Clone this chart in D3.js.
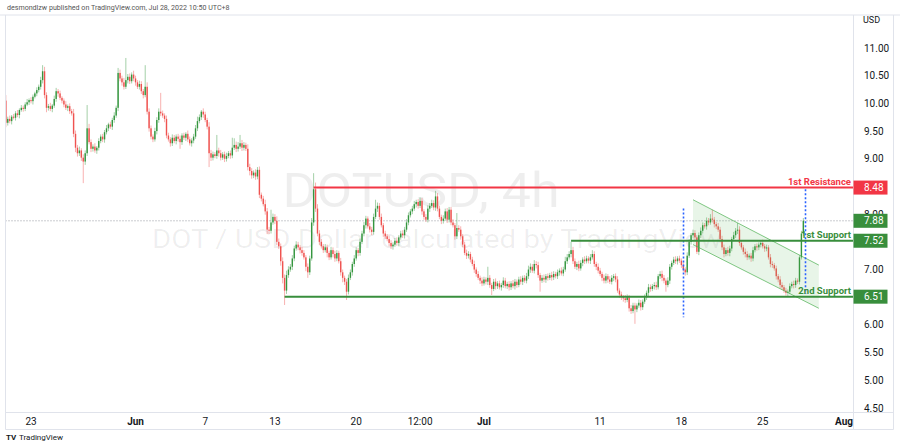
<!DOCTYPE html>
<html><head><meta charset="utf-8">
<script src="https://cdn.jsdelivr.net/npm/d3@7"></script>
<style>body{margin:0;background:#fff;overflow:hidden} svg{display:block} text{font-family:Roboto,"Noto Sans",sans-serif}</style>
</head><body><svg id="c" width="900" height="447"></svg>
<script>
// ---------- data ----------
const startTime = Date.UTC(2022, 4, 20, 20); // first 4h candle (chart time UTC+8)
const candleHours = 4;
const firstOpen = 10.05;
const closes = [
9.65,9.72,9.68,9.76,9.74,9.82,9.79,9.88,9.92,9.90,
9.98,10.02,10.06,10.04,10.12,10.18,10.24,10.30,10.42,10.58,
10.15,9.92,9.95,9.90,9.96,10.08,10.22,10.18,10.10,10.05,
9.98,9.92,9.95,9.86,9.82,9.45,9.20,9.10,9.15,9.02,
8.95,9.10,9.55,9.30,9.18,9.22,9.15,9.20,9.32,9.40,
9.35,9.48,9.55,9.62,9.58,9.70,9.78,9.92,10.55,10.45,
10.38,10.30,10.42,10.48,10.40,10.52,10.45,10.38,10.30,10.35,
10.22,10.15,10.30,9.85,9.55,9.40,9.35,9.50,9.70,9.85,
9.82,9.78,9.72,9.42,9.35,9.28,9.38,9.32,9.40,9.36,
9.30,9.42,9.38,9.45,9.35,9.28,9.33,9.40,9.55,9.68,
9.75,9.85,9.80,9.70,9.58,9.10,9.02,9.08,9.05,9.15,
9.10,9.02,9.08,9.00,9.05,9.10,9.06,9.20,9.25,9.18,
9.22,9.28,9.20,9.25,9.18,8.85,8.78,8.70,8.75,8.68,
8.80,8.35,8.28,8.18,8.05,7.72,7.70,7.85,7.95,7.88,
7.50,7.42,7.15,6.85,6.62,6.90,7.00,7.05,7.20,7.38,
7.45,7.40,7.35,7.30,7.22,7.05,6.95,7.20,7.85,8.45,
8.10,7.65,7.50,7.42,7.35,7.40,7.30,7.22,7.35,7.28,
7.20,7.30,7.15,6.95,6.85,6.78,6.60,6.85,6.95,7.10,
7.20,7.35,7.30,7.50,7.65,7.80,7.92,7.78,7.72,7.68,
7.95,8.10,8.15,7.95,7.80,7.65,7.60,7.55,7.48,7.42,
7.45,7.52,7.48,7.58,7.65,7.62,7.72,7.85,7.98,8.05,
8.10,8.18,8.22,8.15,8.24,8.05,7.95,7.90,8.10,8.15,
8.20,8.12,8.32,8.10,7.95,7.88,7.92,8.05,7.90,8.08,
7.85,7.80,7.60,7.75,7.72,7.60,7.45,7.30,7.25,7.28,
7.18,7.10,7.00,6.92,6.85,6.80,6.75,6.82,6.78,6.85,
6.72,6.65,6.78,6.70,6.75,6.68,6.72,6.80,6.70,6.74,
6.68,6.75,6.70,6.78,6.72,6.82,6.78,6.85,6.80,6.88,
7.00,7.05,6.98,7.10,7.08,6.90,6.80,6.85,6.82,6.88,
6.85,6.90,6.86,6.92,6.88,6.95,6.98,6.93,7.00,7.15,
7.22,7.28,7.35,7.15,7.05,7.10,7.02,7.12,7.18,7.15,
7.20,7.16,7.22,7.28,7.10,7.05,6.98,6.92,6.85,6.80,
6.88,6.82,6.78,6.85,6.88,6.82,6.62,6.55,6.50,6.48,
6.45,6.50,6.30,6.25,6.35,6.28,6.35,6.40,6.32,6.42,
6.50,6.58,6.68,6.65,6.70,6.72,6.68,6.88,6.92,6.85,
6.80,6.72,6.80,7.05,7.12,7.18,7.15,7.20,7.16,7.08,
7.00,6.95,7.25,7.50,7.62,7.66,7.58,7.32,7.62,7.70,
7.80,7.78,7.88,7.85,7.92,7.90,7.82,7.78,7.72,7.55,
7.40,7.28,7.35,7.30,7.38,7.55,7.62,7.70,7.72,7.48,
7.40,7.32,7.28,7.22,7.25,7.20,7.35,7.42,7.40,7.45,
7.48,7.42,7.38,7.40,7.22,7.10,7.08,7.02,6.88,6.82,
6.72,6.68,6.62,6.58,6.60,6.70,6.74,6.72,6.80,6.78,
7.22,7.65,7.88];
// wick lengths above / below the body, in cents
const wickUp = [
10,4,6,3,5,4,6,3,5,4, 4,6,3,5,4,3,5,4,6,11, 8,5,4,6,3,6,6,4,5,3, 4,6,3,5,4,8,6,5,7,4,
6,5,42,8,5,4,6,3,5,4, 5,4,6,3,5,4,6,4,9,6, 5,8,40,5,6,4,7,5,4,6, 5,4,39,8,6,5,4,6,5,6,
34,5,4,6,5,4,6,5,4,5, 6,4,5,3,6,5,4,5,6,8, 5,3,6,5,4,8,6,5,4,28, 5,6,4,5,6,4,5,18,12,6,
8,15,6,5,4,8,6,5,4,6, 5,6,4,5,8,6,5,23,6,5, 8,6,5,7,6,8,6,5,6,5, 6,5,4,6,5,4,6,5,8,29,
12,8,6,5,4,6,5,4,6,5, 6,5,4,6,5,4,5,6,5,4, 6,5,4,6,5,6,5,4,6,5, 6,16,6,5,6,4,5,4,6,5,
4,5,6,4,5,6,5,6,5,4, 5,6,4,5,6,5,4,5,6,5, 6,5,10,6,5,4,6,5,6,5, 5,6,4,27,5,6,4,5,6,5,
4,5,6,4,5,4,6,5,4,20, 5,4,5,6,4,5,4,6,5,4, 5,4,6,5,4,5,6,4,5,6, 7,6,5,7,5,6,4,5,6,4,
5,4,6,5,4,5,4,6,5,8, 6,5,15,6,5,4,6,5,4,6, 5,4,6,7,5,4,6,5,4,6, 5,4,6,5,4,5,6,4,5,4,
6,5,4,6,5,5,4,6,5,4, 5,4,6,5,4,5,6,4,5,6, 5,4,6,5,4,5,6,4,5,4, 5,4,6,5,4,6,5,4,5,6,
5,4,6,5,8,16,5,4,6,5, 6,5,4,6,5,4,6,5,12,6, 5,4,6,5,4,5,6,4,5,4, 5,6,4,5,4,6,5,4,5,4,
6,5,4,5,4,5,4,6,5,4, 4,5,5];
const wickDown = [
8,5,4,6,3,5,4,6,3,5, 4,3,5,4,6,3,5,4,5,6, 6,8,5,4,6,4,5,6,4,5, 5,4,6,5,4,6,8,6,5,6,
39,6,5,4,6,5,4,6,5,4, 5,6,4,5,4,6,5,4,6,5, 6,5,4,6,5,4,5,6,4,5, 5,6,4,5,6,5,5,4,6,5,
5,4,6,5,4,6,5,4,6,5, 12,5,4,6,5,4,6,5,4,5, 4,5,6,4,5,25,6,5,4,5, 6,5,4,6,5,4,6,5,4,6,
5,4,6,5,4,6,8,6,5,6, 5,6,5,4,6,8,6,5,4,6, 6,5,8,10,26,6,5,4,6,5, 4,5,6,5,4,8,10,5,4,6,
6,5,6,4,5,4,8,5,4,6, 6,5,4,6,8,6,15,5,4,6, 5,4,6,5,4,5,6,4,5,6, 5,4,6,5,4,6,5,4,6,5,
6,4,5,6,4,5,6,4,5,4, 5,4,6,5,4,6,5,4,5,6, 4,5,6,5,4,6,5,4,6,5, 5,4,6,5,4,6,5,4,6,5,
5,4,6,5,4,6,5,4,5,6, 5,11,4,6,5,4,6,5,4,5, 6,5,4,6,5,4,5,6,4,5, 5,6,4,5,6,5,20,4,5,6,
5,4,6,5,4,5,6,4,5,4, 5,4,6,5,4,6,5,4,6,5, 4,5,6,4,5,6,5,4,6,5, 5,6,4,5,6,5,4,6,5,6,
5,4,6,5,4,26,5,4,6,5, 4,5,6,5,4,6,5,4,5,6, 5,12,4,6,5,4,5,6,4,5, 4,6,5,4,5,6,5,4,6,5,
5,4,6,5,4,5,6,5,4,6, 5,6,4,5,6,5,4,5,6,5, 4,5,6,5,4,6,5,4,6,5, 5,4,6,5,4,6,5,4,6,5,
6,5,4,5,6,5,4,6,5,4, 5,4,5];

const priceTicks = [4.5,5,5.5,6,6.5,7,7.5,8,8.5,9,9.5,10,10.5,11];
const timeTickDates = [Date.UTC(2022,4,23),Date.UTC(2022,5,1),Date.UTC(2022,5,7),Date.UTC(2022,5,13),Date.UTC(2022,5,20),Date.UTC(2022,5,25,12),Date.UTC(2022,6,1),Date.UTC(2022,6,11),Date.UTC(2022,6,18),Date.UTC(2022,6,25),Date.UTC(2022,7,1)];
const timeTickLabels = ["23","Jun","7","13","20","12:00","Jul","11","18","25","Aug"];
const timeTickIsMonth = [false,true,false,false,false,false,true,false,false,false,true];

const levelNames = ["1st Resistance","1st Support","2nd Support"];
const levelPrices = [8.48, 7.52, 6.51];
const levelStart = [Date.UTC(2022,5,16,8), Date.UTC(2022,6,8,12), Date.UTC(2022,5,13,20)];
const levelKind = ["resistance","support","support"];

const channelTimes = [Date.UTC(2022,6,19,0), Date.UTC(2022,6,29,20)];
const channelUpper = [8.26, 7.08];
const channelLower = [7.45, 6.30];

const markerTimes = [Date.UTC(2022,6,18,4), Date.UTC(2022,6,28,16)];
const markerTop = [8.10, 8.45];
const markerBottom = [6.14, 6.56];

// ---------- layout ----------
const W = 900, H = 447;
const plotL = 5.5, plotR = 853.5, plotT = 15, plotB = 412.5, axisB = 429.5, scaleR = 893.5;
const RED = "#f23645", GREEN = "#388e3c", UP = "#35963f", DOWN = "#ef5350";

const svg = d3.select("#c");
const x = d3.scaleUtc().domain([Date.UTC(2022,4,23), Date.UTC(2022,7,1)]).range([31, 844]);
const y = d3.scaleLinear().domain([4.5, 11]).range([408, 48]);

const candles = closes.map((c, i) => {
  const o = i === 0 ? firstOpen : closes[i-1];
  return {t: startTime + i*candleHours*3600e3, o, c,
          h: Math.max(o,c) + wickUp[i]/100, l: Math.min(o,c) - wickDown[i]/100};
});

svg.append("defs").append("clipPath").attr("id","clip")
  .append("rect").attr("x",plotL).attr("y",plotT).attr("width",plotR-plotL).attr("height",plotB-plotT);

const plot = svg.append("g").attr("clip-path","url(#clip)");

// watermark
plot.append("text").attr("x",421).attr("y",207).attr("text-anchor","middle")
  .attr("font-size",49).attr("fill","#000").attr("fill-opacity",0.065)
  .attr("textLength",277).attr("lengthAdjust","spacingAndGlyphs").text("DOTUSD, 4h");
plot.append("text").attr("x",437).attr("y",248).attr("text-anchor","middle")
  .attr("font-size",25).attr("fill","#000").attr("fill-opacity",0.065)
  .attr("textLength",570).attr("lengthAdjust","spacingAndGlyphs").text("DOT / USD Dollar calculated by TradingView");

// current price dotted line
const last = candles[candles.length-1];
plot.append("line").attr("x1",plotL).attr("x2",plotR).attr("y1",y(last.c)).attr("y2",y(last.c))
  .attr("stroke","#9598a1").attr("stroke-width",1).attr("stroke-dasharray","1,2");

// candles
const cg = plot.append("g");
const cw = 1.4;
cg.selectAll("line.w").data(candles).join("line")
  .attr("x1",d=>x(d.t)).attr("x2",d=>x(d.t)).attr("y1",d=>y(d.h)).attr("y2",d=>y(d.l))
  .attr("stroke",d=>d.c>=d.o?UP:DOWN).attr("stroke-opacity",0.5).attr("stroke-width",0.9);
cg.selectAll("rect.b").data(candles).join("rect")
  .attr("x",d=>x(d.t)-cw/2).attr("width",cw)
  .attr("y",d=>y(Math.max(d.o,d.c))).attr("height",d=>Math.max(1,Math.abs(y(d.o)-y(d.c))))
  .attr("fill",d=>d.c>=d.o?UP:DOWN);

// channel
const chPoly = [[x(channelTimes[0]),y(channelUpper[0])],[x(channelTimes[1]),y(channelUpper[1])],
                [x(channelTimes[1]),y(channelLower[1])],[x(channelTimes[0]),y(channelLower[0])]];
plot.append("path").attr("d","M"+chPoly.map(p=>p.join(",")).join("L")+"Z")
  .attr("fill","#4caf50").attr("fill-opacity",0.13);
[channelUpper, channelLower].forEach(arr=>{
  plot.append("line").attr("x1",x(channelTimes[0])).attr("y1",y(arr[0]))
    .attr("x2",x(channelTimes[1])).attr("y2",y(arr[1]))
    .attr("stroke","#4caf50").attr("stroke-opacity",0.7).attr("stroke-width",1);
});

// blue dotted markers
markerTimes.forEach((t,i)=>{
  plot.append("line").attr("x1",Math.round(x(t))+0.5).attr("x2",Math.round(x(t))+0.5)
    .attr("y1",y(markerTop[i])).attr("y2",y(markerBottom[i]))
    .attr("stroke","#2962ff").attr("stroke-width",1.6).attr("stroke-dasharray","2,2");
});

// levels
levelPrices.forEach((p,i)=>{
  const col = levelKind[i]==="resistance"?RED:GREEN;
  plot.append("line").attr("x1",x(levelStart[i])).attr("x2",plotR).attr("y1",y(p)).attr("y2",y(p))
    .attr("stroke",col).attr("stroke-width",2);
  plot.append("text").attr("x",851).attr("y",y(p)-3).attr("text-anchor","end")
    .attr("font-size",9.5).attr("font-weight","bold").attr("fill",col).text(levelNames[i]);
});

// frame
const frame = svg.append("g").attr("stroke","#e0e3eb").attr("stroke-width",1);
frame.append("line").attr("x1",0).attr("x2",W).attr("y1",plotT).attr("y2",plotT);
frame.append("line").attr("x1",plotL).attr("x2",plotL).attr("y1",plotT).attr("y2",axisB);
frame.append("line").attr("x1",plotR).attr("x2",plotR).attr("y1",plotT).attr("y2",axisB);
frame.append("line").attr("x1",scaleR).attr("x2",scaleR).attr("y1",plotT).attr("y2",axisB);
frame.append("line").attr("x1",plotL).attr("x2",scaleR).attr("y1",plotB).attr("y2",plotB);
frame.append("line").attr("x1",plotL).attr("x2",scaleR).attr("y1",axisB).attr("y2",axisB);

// price axis (labels hidden where a price box sits, as in TradingView)
const boxes = [{p:levelPrices[0],col:RED},{p:last.c,col:GREEN},{p:levelPrices[1],col:GREEN},{p:levelPrices[2],col:GREEN}];
const ya = svg.append("g");
ya.selectAll("text").data(priceTicks).join("text")
  .attr("x",864).attr("y",d=>y(d)+3.5).attr("font-size",10).attr("fill","#131722")
  .text(d=>d.toFixed(2));
svg.append("text").attr("x",863).attr("y",23).attr("font-size",9).attr("fill","#131722").text("USD");

// price boxes
boxes.forEach(b=>{
  svg.append("rect").attr("x",plotR).attr("y",y(b.p)-7).attr("width",34).attr("height",14).attr("fill",b.col);
  svg.append("text").attr("x",864).attr("y",y(b.p)+3.5).attr("font-size",10).attr("fill","#fff").text(b.p.toFixed(2));
});

// time axis
timeTickDates.forEach((t,i)=>{
  svg.append("text").attr("x",x(t)).attr("y",424.5).attr("text-anchor","middle")
    .attr("font-size",10).attr("font-weight",timeTickIsMonth[i]?"bold":"normal").attr("fill","#131722")
    .text(timeTickLabels[i]);
});

// header & footer
svg.append("text").attr("x",7).attr("y",10).attr("font-size",7.1).attr("fill","#555")
  .text("desmondlzw published on TradingView.com, Jul 28, 2022 10:50 UTC+8");
svg.append("text").attr("x",6).attr("y",440).attr("font-size",8).attr("font-weight","bold").attr("fill","#131722").text("TV");
svg.append("text").attr("x",19).attr("y",440).attr("font-size",8).attr("fill","#131722").text("TradingView");
</script></body></html>
